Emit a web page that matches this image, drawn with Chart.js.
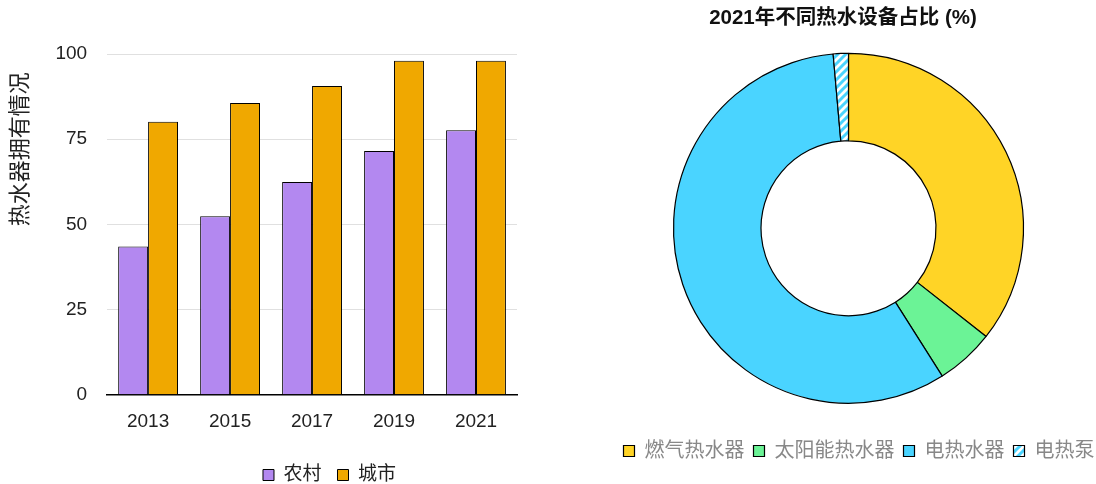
<!DOCTYPE html>
<html>
<head>
<meta charset="utf-8">
<script src="https://cdn.jsdelivr.net/npm/chart.js@4"></script>
<style>
  html, body { margin: 0; padding: 0; background: #fff; overflow: hidden; }
  #wrap { width: 1096px; height: 484px; display: flex; }
  #left { width: 540px; height: 484px; position: relative; }
  #right { width: 556px; height: 484px; position: relative; }
</style>
</head>
<body>
<div id="wrap">
  <div id="left"><canvas id="barChart"></canvas></div>
  <div id="right"><canvas id="pieChart"></canvas></div>
</div>
<script>
// 数据
const years = ['2013', '2015', '2017', '2019', '2021'];
const ruralValues = [43.5, 52.4, 62.4, 71.5, 77.6];
const urbanValues = [80.1, 85.6, 90.6, 98.0, 98.0];
const yTicks = [0, 25, 50, 75, 100];

const deviceLabels = ['燃气热水器', '太阳能热水器', '电热水器', '电热泵'];
const deviceShares = [35.6, 5.4, 57.6, 1.4];

const fontFamily = '"Liberation Sans", Arial, "Noto Sans CJK SC", sans-serif';

// 电热泵 斜纹填充
const makeStripes = () => {
    const c = document.createElement('canvas');
    c.width = 8; c.height = 8;
    const g = c.getContext('2d');
    g.fillStyle = '#ffffff';
    g.fillRect(0, 0, 8, 8);
    g.strokeStyle = '#4ad4ff';
    g.lineWidth = 3;
    g.beginPath();
    g.moveTo(-2, 10); g.lineTo(10, -2);
    g.moveTo(-2, 2); g.lineTo(2, -2);
    g.moveTo(6, 10); g.lineTo(10, 6);
    g.stroke();
    return g.createPattern(c, 'repeat');
};

// 横向平移一个布局块 (图例/标题)
const shiftDraw = (box, dx) => {
    const draw = box.draw;
    box.draw = function () {
        this.ctx.save();
        this.ctx.translate(dx, 0);
        draw.apply(this, arguments);
        this.ctx.restore();
    };
};

// 图例位置微调 (dy: 往下, dx: 往右), 标题 titleDx
const legendAdjust = (dx, dy, titleDx = 0) => ({
    id: 'legendAdjust',
    beforeInit(chart) {
        const legend = chart.legend;
        const fit = legend.fit;
        legend.fit = function () {
            fit.call(this);
            this.height -= dy;
        };
        shiftDraw(legend, dx);
        if (titleDx && chart.titleBlock) shiftDraw(chart.titleBlock, titleDx);
    }
});

new Chart(document.getElementById('barChart'), {
    type: 'bar',
    data: {
        labels: years,
        datasets: [{
            label: '农村',
            data: ruralValues,
            backgroundColor: '#b388f0',
            borderColor: '#000',
            borderWidth: 1
        }, {
            label: '城市',
            data: urbanValues,
            backgroundColor: '#f0a800',
            borderColor: '#000',
            borderWidth: 1
        }]
    },
    plugins: [legendAdjust(69, 10.5)],
    options: {
        responsive: true,
        maintainAspectRatio: false,
        animation: false,
        categoryPercentage: 0.73,
        barPercentage: 1.0,
        layout: { padding: { left: 4, right: 23, top: 54, bottom: 0 } },
        plugins: {
            legend: {
                position: 'bottom',
                labels: {
                    boxWidth: 11, boxHeight: 11,
                    color: '#222',
                    font: { size: 19, family: fontFamily },
                    padding: 16
                }
            },
            tooltip: { enabled: false }
        },
        scales: {
            x: {
                grid: { display: false, drawTicks: false },
                border: { color: '#000', width: 1.5 },
                ticks: { color: '#222', font: { size: 19, family: fontFamily }, padding: 16 }
            },
            y: {
                min: 0, max: 100,
                afterBuildTicks: axis => { axis.ticks = yTicks.map(v => ({ value: v })); },
                border: { display: false },
                grid: { color: '#e0e0e0', drawTicks: false },
                ticks: { color: '#222', font: { size: 19, family: fontFamily }, padding: 20 },
                title: {
                    display: true,
                    text: '热水器拥有情况   ',
                    align: 'end',
                    color: '#222',
                    font: { size: 22, family: fontFamily },
                    padding: { top: 4, bottom: 1 }
                }
            }
        }
    }
});

new Chart(document.getElementById('pieChart'), {
    type: 'doughnut',
    data: {
        labels: deviceLabels,
        datasets: [{
            data: deviceShares,
            backgroundColor: ['#ffd426', '#6bf396', '#4ad4ff', makeStripes()],
            borderColor: '#000',
            borderWidth: 1.2,
            radius: 175
        }]
    },
    plugins: [legendAdjust(6, 0, -10)],
    options: {
        responsive: true,
        maintainAspectRatio: false,
        animation: false,
        cutout: '50%',
        layout: { padding: { left: 61, right: -9, top: 0, bottom: 13 } },
        plugins: {
            title: {
                display: true,
                text: '2021年不同热水设备占比 (%)',
                color: '#111',
                font: { size: 20.5, weight: 'bold', family: fontFamily },
                padding: { top: 6, bottom: -6 }
            },
            legend: {
                position: 'bottom',
                labels: {
                    boxWidth: 11, boxHeight: 11,
                    color: '#888',
                    font: { size: 20, family: fontFamily },
                    padding: 9
                }
            },
            tooltip: { enabled: false }
        }
    }
});
</script>
</body>
</html>
